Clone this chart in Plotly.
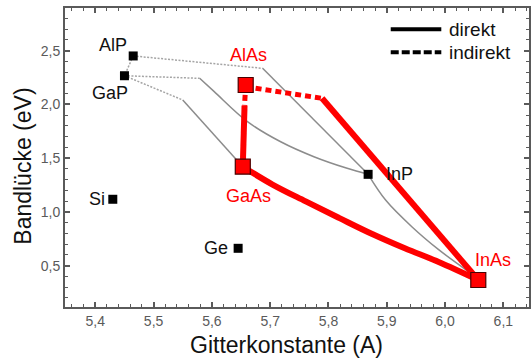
import plotly.graph_objects as go

# ---------------- data ----------------
# binary semiconductors: lattice constant (Å) and band gap (eV)
black_names = ["AlP", "GaP", "Si", "Ge", "InP"]
black_a = [5.465, 5.450, 5.430, 5.645, 5.868]
black_eg = [2.451, 2.267, 1.118, 0.662, 1.350]

red_names = ["AlAs", "GaAs", "InAs"]
red_a = [5.658, 5.653, 6.057]
red_eg = [2.181, 1.421, 0.367]

# grey ternary curves (indirect part = dotted, direct part = solid)
algap_ind_a = [5.465, 5.450]
algap_ind_eg = [2.451, 2.267]

alinp_ind_a = [5.465, 5.687]
alinp_ind_eg = [2.451, 2.336]
alinp_dir_a = [5.687, 5.868]
alinp_dir_eg = [2.336, 1.350]

gainp_ind_a = [5.450, 5.579]
gainp_ind_eg = [2.267, 2.243]
gainp_dir_a = [5.579, 5.604, 5.661, 5.718, 5.775, 5.832, 5.868]
gainp_dir_eg = [2.243, 2.119, 1.840, 1.653, 1.514, 1.406, 1.350]

gaasp_ind_a = [5.450, 5.550]
gaasp_ind_eg = [2.267, 2.041]
gaasp_dir_a = [5.550, 5.653]
gaasp_dir_eg = [2.041, 1.421]

inasp_dir_a = [5.868, 5.898, 5.943, 5.989, 6.040, 6.057]
inasp_dir_eg = [1.350, 1.111, 0.863, 0.649, 0.444, 0.367]

# red ternary curves (Al/Ga/In arsenides)
algaas_ind_a = [5.658, 5.656]
algaas_ind_eg = [2.181, 1.990]
algaas_dir_a = [5.656, 5.653]
algaas_dir_eg = [1.990, 1.421]

alinas_ind_a = [5.658, 5.789]
alinas_ind_eg = [2.165, 2.057]
alinas_dir_a = [5.789, 6.057]
alinas_dir_eg = [2.057, 0.367]

gainas_dir_a = [5.653, 5.704, 5.761, 5.818, 5.875, 5.932, 5.989, 6.057]
gainas_dir_eg = [1.421, 1.255, 1.098, 0.945, 0.795, 0.660, 0.535, 0.367]

x_ticks = [5.4, 5.5, 5.6, 5.7, 5.8, 5.9, 6.0, 6.1]
y_ticks = [0.5, 1.0, 1.5, 2.0, 2.5]
legend_labels = ["direkt", "indirekt"]

# ---------------- styles ----------------
FONT = "Arial, Liberation Sans, sans-serif"
RED = "#ff0000"
GREY = "#8c8c8c"
GREY_DOT = "#a5a5a5"

fig = go.Figure()


def add_line(a, eg, color, width, dash="solid", shape="linear"):
    fig.add_trace(go.Scatter(
        x=a, y=eg, mode="lines", showlegend=False, hoverinfo="skip",
        line=dict(color=color, width=width, dash=dash, shape=shape, smoothing=1.0),
    ))


# grey curves
for a, eg in [(algap_ind_a, algap_ind_eg), (alinp_ind_a, alinp_ind_eg),
              (gainp_ind_a, gainp_ind_eg), (gaasp_ind_a, gaasp_ind_eg)]:
    add_line(a, eg, GREY_DOT, 1.5, dash="2px,1.5px")
for a, eg, sh in [(alinp_dir_a, alinp_dir_eg, "linear"),
                  (gainp_dir_a, gainp_dir_eg, "spline"),
                  (gaasp_dir_a, gaasp_dir_eg, "linear"),
                  (inasp_dir_a, inasp_dir_eg, "spline")]:
    add_line(a, eg, GREY, 1.5, shape=sh)

# red curves
add_line(algaas_ind_a, algaas_ind_eg, RED, 5, dash="6px,4px")
add_line(alinas_ind_a, alinas_ind_eg, RED, 5, dash="6px,4px")
add_line(algaas_dir_a, algaas_dir_eg, RED, 6)
add_line(alinas_dir_a, alinas_dir_eg, RED, 6)
add_line(gainas_dir_a, gainas_dir_eg, RED, 6, shape="spline")

# markers
fig.add_trace(go.Scatter(
    x=black_a, y=black_eg, mode="markers", showlegend=False, text=black_names,
    marker=dict(symbol="square", size=9, color="#000000", line=dict(width=0)),
))
fig.add_trace(go.Scatter(
    x=red_a, y=red_eg, mode="markers", showlegend=False, text=red_names,
    marker=dict(symbol="square", size=15, color=RED, line=dict(width=1.2, color="#4a0000")),
))

# point labels (offsets in pixels)
label_style = {
    "AlP": dict(xanchor="right", xshift=-4, yshift=11, color="#111111"),
    "GaP": dict(xanchor="center", xshift=-14, yshift=-17, color="#111111"),
    "Si": dict(xanchor="right", xshift=-6, yshift=0, color="#111111"),
    "Ge": dict(xanchor="right", xshift=-8, yshift=0, color="#111111"),
    "InP": dict(xanchor="left", xshift=16, yshift=0, color="#111111"),
    "AlAs": dict(xanchor="center", xshift=3, yshift=30, color=RED),
    "GaAs": dict(xanchor="center", xshift=6, yshift=-29, color=RED),
    "InAs": dict(xanchor="center", xshift=15, yshift=20, color=RED),
}
for names, xs, ys in [(black_names, black_a, black_eg), (red_names, red_a, red_eg)]:
    for n, xv, yv in zip(names, xs, ys):
        st = label_style[n]
        fig.add_annotation(
            x=xv, y=yv, text=n, showarrow=False, xanchor=st["xanchor"], yanchor="middle",
            xshift=st["xshift"], yshift=st["yshift"],
            font=dict(family=FONT, size=18, color=st["color"]),
        )

# legend (key drawn in paper coordinates)
leg_y = [0.929, 0.852]
leg_dash = ["solid", "8px,3px"]
for lab, yy, ds in zip(legend_labels, leg_y, leg_dash):
    fig.add_shape(type="line", xref="paper", yref="paper", x0=0.702, x1=0.811, y0=yy, y1=yy,
                  line=dict(color="#000000", width=4, dash=ds))
    fig.add_annotation(xref="paper", yref="paper", x=0.824, y=yy, text=lab, showarrow=False,
                       xanchor="left", yanchor="middle",
                       font=dict(family=FONT, size=19, color="#111111"))

# axis titles
fig.add_annotation(xref="paper", yref="paper", x=0.477, y=-0.127, text="Gitterkonstante (A)",
                   showarrow=False, xanchor="center", yanchor="middle",
                   font=dict(family=FONT, size=23, color="#111111"))
fig.add_annotation(xref="paper", yref="paper", x=-0.090, y=0.47, text="Bandlücke (eV)",
                   showarrow=False, xanchor="center", yanchor="middle", textangle=-90,
                   font=dict(family=FONT, size=23, color="#111111"))

axis_common = dict(
    showline=True, linecolor="#5a5a5a", linewidth=2, mirror="allticks",
    ticks="inside", ticklen=5, tickwidth=1.5, tickcolor="#5a5a5a",
    showgrid=False, zeroline=False, tickformat=".1f",
    tickfont=dict(family=FONT, size=14, color="#5a5a5a"),
)
fig.update_xaxes(range=[5.348, 6.144], tickvals=x_ticks,
                 minor=dict(dtick=0.02, tick0=5.4, ticks="inside", ticklen=3,
                            tickcolor="#5a5a5a", tickwidth=1.2, showgrid=False),
                 **axis_common)
fig.update_yaxes(range=[0.116, 2.897], tickvals=y_ticks,
                 minor=dict(dtick=0.1, tick0=0.5, ticks="inside", ticklen=3,
                            tickcolor="#5a5a5a", tickwidth=1.2, showgrid=False),
                 **axis_common)

fig.update_layout(
    width=532, height=362, separators=", ",
    margin=dict(l=65, r=1, t=8, b=55),
    paper_bgcolor="white", plot_bgcolor="white",
    font=dict(family=FONT), showlegend=False,
)

fig.write_html("out.html")
